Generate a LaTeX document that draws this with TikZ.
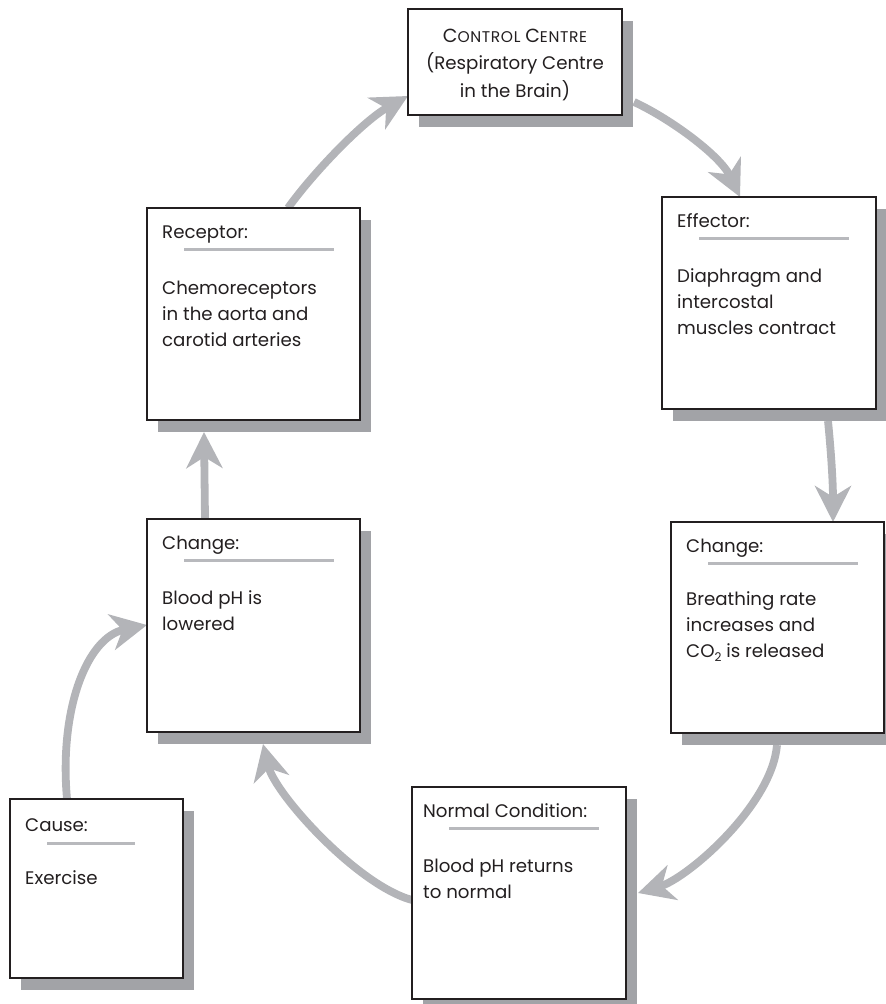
\documentclass[tikz,border=0pt]{standalone}
\usepackage{fontspec}
\setmainfont{Poppins}
\usetikzlibrary{arrows.meta,calc}
\definecolor{ink}{HTML}{231F20}
\definecolor{shad}{HTML}{A2A3A7}
\definecolor{arr}{HTML}{B3B4B8}
\definecolor{uline}{HTML}{B8B9BD}
\pgfdeclarelayer{arrlayer}
\pgfdeclarelayer{shlayer}
\pgfsetlayers{arrlayer,shlayer,main}
\newcommand{\smc}[1]{{\fontsize{15.5}{15.5}\selectfont\addfontfeature{LetterSpace=4}#1}}
\tikzset{
  box/.style={draw=ink, line width=1.7pt, fill=white, anchor=north west, inner sep=0pt, outer sep=0pt},
  txt/.style={font=\fontsize{18.2}{22}\selectfont, text=ink, inner sep=0pt, anchor=base west},
  ctxt/.style={font=\fontsize{18.2}{22}\selectfont, text=ink, inner sep=0pt, anchor=base},
  flow/.style={draw=arr, line width=7.8pt, -{Stealth[length=36pt,width=36pt,inset=11pt]}},
  ul/.style={draw=uline, line width=3pt},
  shadowfill/.style={fill=shad},
}
\begin{document}
\begin{tikzpicture}[x=1pt,y=-1pt]
\useasboundingbox (0,0) rectangle (886,1004);
\clip (0,0) rectangle (886,1004);
% boxes
\node[box, minimum width=214pt, minimum height=106pt] (ctrl) at (408,9) {};
\node[box, minimum width=213pt, minimum height=212pt] (rec) at (147,208) {};
\node[box, minimum width=214pt, minimum height=212pt] (eff) at (662,197) {};
\node[box, minimum width=213pt, minimum height=213pt] (chl) at (147,519) {};
\node[box, minimum width=213pt, minimum height=211pt] (chr) at (671,522) {};
\node[box, minimum width=214pt, minimum height=212pt] (norm) at (412,787) {};
\node[box, minimum width=173pt, minimum height=179pt] (cause) at (10,799) {};
% shadows
\begin{pgfonlayer}{shlayer}
\foreach \b in {ctrl,rec,eff,chl,chr,norm,cause}{
  \fill[shadowfill] ($(\b.north west)+(11,12)$) rectangle ($(\b.south east)+(11,12)$);
}
\end{pgfonlayer}
% arrows
\coordinate (a1s) at ($(rec.north west)+(141,0)$);
\coordinate (a1e) at ($(ctrl.north west)+(0,87)$);
\coordinate (a2s) at ($(ctrl.north west)+(226,93)$);
\coordinate (a2e) at ($(eff.north west)+(78,0)$);
\coordinate (a3s) at ($(eff.north west)+(166,224)$);
\coordinate (a3e) at ($(chr.north west)+(162,0)$);
\coordinate (a4s) at ($(chr.north west)+(106,223)$);
\coordinate (a4e) at ($(norm.north west)+(226,106)$);
\coordinate (a5s) at ($(norm.north west)+(0,113)$);
\coordinate (a5e) at ($(chl.north west)+(116,225)$);
\coordinate (a6s) at ($(chl.north west)+(58,0)$);
\coordinate (a6e) at ($(rec.north west)+(57,224)$);
\coordinate (a7s) at ($(cause.north west)+(57,0)$);
\coordinate (a7e) at ($(chl.north west)+(0,106)$);
\begin{pgfonlayer}{arrlayer}
\draw[flow] (a1s) .. controls +(25,-35) and +(-45,25) .. (a1e);
\draw[flow] (a2s) .. controls +(35,16) and +(-20,-42) .. (a2e);
\draw[flow] (a3s) .. controls +(3,30) and +(0,-40) .. (a3e);
\draw[flow] (a4s) .. controls +(-5,60) and +(50,-15) .. (a4e);
\draw[flow] (a5s) .. controls +(-55,-15) and +(12,50) .. (a5e);
\draw[flow] (a6s) -- (a6e);
\draw[flow] (a7s) .. controls +(-8,-90) and +(-60,12) .. (a7e);
\end{pgfonlayer}
% control centre text
\node[ctxt] (c1) at ($(ctrl.north west)+(107,33)$) {{\fontsize{19}{19}\selectfont C}\smc{ONTROL} {\fontsize{19}{19}\selectfont C}\smc{ENTRE}};
\node[ctxt] (c2) at ($(ctrl.north west)+(107,60)$) {(Respiratory Centre};
\node[ctxt] (c3) at ($(ctrl.north west)+(107,88)$) {in the Brain)};
% receptor
\node[txt] (r0) at ($(rec.north west)+(15,30)$) {Receptor:};
\draw[ul] ($(rec.north west)+(37,41)$) -- ($(rec.north west)+(187,41)$);
\node[txt] (r1) at ($(rec.north west)+(15,86)$) {Chemoreceptors};
\node[txt] (r2) at ($(rec.north west)+(15,112)$) {in the aorta and};
\node[txt] (r3) at ($(rec.north west)+(15,138)$) {carotid arteries};
% effector
\node[txt] (e0) at ($(eff.north west)+(15,30)$) {Effector:};
\draw[ul] ($(eff.north west)+(37,41)$) -- ($(eff.north west)+(187,41)$);
\node[txt] (e1) at ($(eff.north west)+(15,85)$) {Diaphragm and};
\node[txt] (e2) at ($(eff.north west)+(15,111)$) {intercostal};
\node[txt] (e3) at ($(eff.north west)+(15,137)$) {muscles contract};
% change right
\node[txt] (cr0) at ($(chr.north west)+(15,30)$) {Change:};
\draw[ul] ($(chr.north west)+(37,41)$) -- ($(chr.north west)+(187,41)$);
\node[txt] (cr1) at ($(chr.north west)+(15,83)$) {Breathing rate};
\node[txt] (cr2) at ($(chr.north west)+(15,109)$) {increases and};
\node[txt] (cr3) at ($(chr.north west)+(15,135)$) {CO\raisebox{-0.45ex}{\fontsize{12}{12}\selectfont 2} is released};
% normal
\node[txt] (n0) at ($(norm.north west)+(11,30)$) {Normal Condition:};
\draw[ul] ($(norm.north west)+(37,41)$) -- ($(norm.north west)+(187,41)$);
\node[txt] (n1) at ($(norm.north west)+(11,85)$) {Blood pH returns};
\node[txt] (n2) at ($(norm.north west)+(11,111)$) {to normal};
% change left
\node[txt] (cl0) at ($(chl.north west)+(15,30)$) {Change:};
\draw[ul] ($(chl.north west)+(37,41)$) -- ($(chl.north west)+(187,41)$);
\node[txt] (cl1) at ($(chl.north west)+(15,85)$) {Blood pH is};
\node[txt] (cl2) at ($(chl.north west)+(15,111)$) {lowered};
% cause
\node[txt] (k0) at ($(cause.north west)+(15,32)$) {Cause:};
\draw[ul] ($(cause.north west)+(37,44)$) -- ($(cause.north west)+(125,44)$);
\node[txt] (k1) at ($(cause.north west)+(15,85)$) {Exercise};
\end{tikzpicture}
\end{document}
